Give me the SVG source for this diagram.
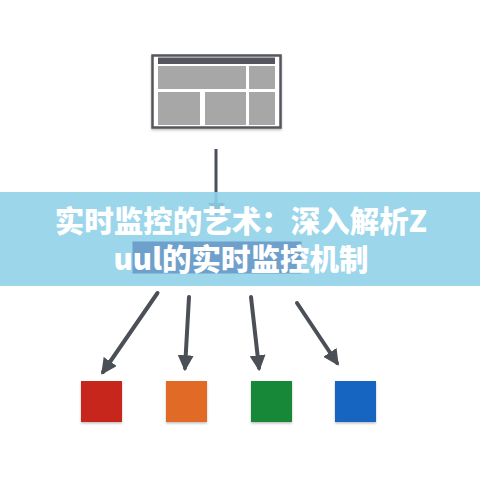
<svg xmlns="http://www.w3.org/2000/svg" width="480" height="480" viewBox="0 0 480 480">
<defs>
<style>
.panel{fill:#a7a7a7}
.conn{stroke:#4b4f56;stroke-width:4;stroke-linecap:round;fill:none}
.sq{filter:url(#sh)}
.title{font-family:"Noto Sans CJK SC","Noto Sans",sans-serif;font-weight:900;font-size:29.5px;fill:#ffffff;text-anchor:middle}
</style>
<marker id="ah" viewBox="0 0 10 10" refX="8" refY="5" markerWidth="4" markerHeight="4" orient="auto" markerUnits="strokeWidth">
<path d="M0,0 L10,5 L0,10 Z" fill="#4b4f56"/>
</marker>
<filter id="sh" x="-20%" y="-20%" width="140%" height="150%">
<feDropShadow dx="0" dy="1.5" stdDeviation="1.2" flood-color="#000" flood-opacity="0.25"/>
</filter>
</defs>
<rect width="480" height="480" fill="#ffffff"/>
<g id="window" filter="url(#sh)">
<rect x="152.5" y="55.5" width="128" height="72" fill="#ffffff" stroke="#55565c" stroke-width="2.5"/>
<rect x="158" y="57.5" width="117" height="6.5" fill="#54555e"/>
<rect class="panel" x="158" y="66" width="88" height="23"/>
<rect class="panel" x="249" y="66" width="26" height="23"/>
<rect class="panel" x="158" y="92" width="42" height="33"/>
<rect class="panel" x="205" y="92" width="41" height="33"/>
<rect class="panel" x="249" y="92" width="26" height="33"/>
</g>
<g id="connectors">
<line x1="216" y1="149" x2="216" y2="206" stroke="#4b4f56" stroke-width="3"/>
<polygon points="208,203 225,203 216.5,216" fill="#4b4f56"/>
<line class="conn" x1="157.5" y1="293" x2="103" y2="372" marker-end="url(#ah)"/>
<line class="conn" x1="189" y1="297" x2="185" y2="368" marker-end="url(#ah)"/>
<line class="conn" x1="251" y1="297" x2="259" y2="368" marker-end="url(#ah)"/>
<line class="conn" x1="297" y1="303" x2="337" y2="363" marker-end="url(#ah)"/>
</g>
<g id="node-red"><rect class="sq" x="81" y="381" width="41" height="41" fill="#c7281c"/></g>
<g id="node-orange"><rect class="sq" x="166" y="381" width="41" height="41" fill="#e06b27"/></g>
<g id="node-green"><rect class="sq" x="251" y="381" width="41" height="41" fill="#158838"/></g>
<g id="node-blue"><rect class="sq" x="335" y="381" width="41" height="41" fill="#1965c1"/></g>
<g id="banner">
<rect x="0" y="192" width="480" height="94" fill="#90d1e9" opacity="0.9"/>
<rect x="132.5" y="241.5" width="169" height="32" fill="#6f9fcb"/>
<text class="title" x="241" y="232">实时监控的艺术：深入解析Z</text>
<text class="title" x="241" y="270">uul的实时监控机制</text>
</g>
</svg>
